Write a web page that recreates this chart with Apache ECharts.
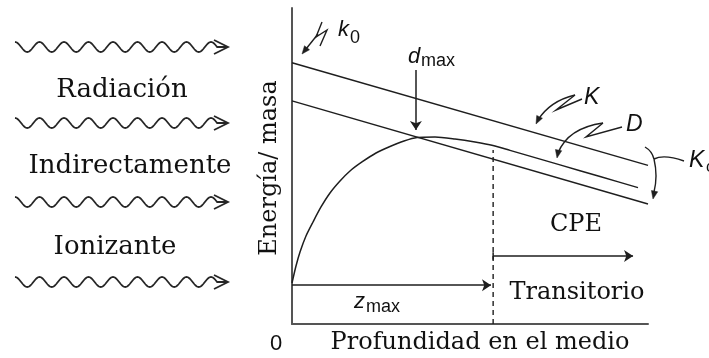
<!DOCTYPE html>
<html>
<head>
<meta charset="utf-8">
<script src="https://cdn.jsdelivr.net/npm/echarts@6/dist/echarts.min.js"></script>
<style>html,body{margin:0;padding:0;background:#fff}#c{width:709px;height:358px}</style>
</head>
<body>
<div id="c"></div>
<script>
// ---- data (depth in % of axis, energy/mass in % of axis) ----
const kermaDepth = [0, 100];
const kermaValue = [82.7, 50.2];
const collisionKermaDepth = [0, 100];
const collisionKermaValue = [70.6, 38.0];
const doseDepth = [0, 1.12, 2.25, 3.93, 5.90, 8.15, 10.67, 13.48, 16.29, 19.66, 23.60, 27.53, 31.46, 35.11, 40.17, 45.79, 51.40, 56.46, 61.24, 75.28, 86.52, 97.19];
const doseValue = [12.97, 18.35, 22.78, 27.85, 32.28, 37.03, 41.46, 45.25, 48.42, 51.27, 54.11, 56.17, 57.91, 59.02, 59.18, 58.54, 57.59, 56.49, 54.94, 50.35, 46.68, 43.16];
const zMaxDepth = 56.5;
const dMaxDepth = 34.8;
const leftLabels = ['Radiación', 'Indirectamente', 'Ionizante'];

const pair = (xs, ys) => xs.map((x, i) => [x, ys[i]]);
const INK = '#1e1e1e';
const SERIF = '"DejaVu Serif"';
const SANS = '"Liberation Sans"';

function head(tx, ty, fx, fy, len, hw) {
  len = len || 8; hw = hw || 3.2;
  const dx = tx - fx, dy = ty - fy, L = Math.hypot(dx, dy);
  const ux = dx / L, uy = dy / L, px = -uy, py = ux;
  const bx = tx - ux * len, by = ty - uy * len;
  return {type: 'polygon', shape: {points: [[tx, ty], [bx + px * hw, by + py * hw], [bx - px * hw, by - py * hw]]},
          style: {fill: INK, stroke: INK, lineWidth: 0.5}, z: 10};
}
function poly(points, w) {
  return {type: 'polyline', shape: {points}, style: {stroke: INK, lineWidth: w || 1.4, fill: null}, z: 10};
}
function curve(x1, y1, cx, cy, x2, y2) {
  return {type: 'bezierCurve', shape: {x1, y1, cpx1: cx, cpy1: cy, x2, y2}, style: {stroke: INK, lineWidth: 1.4, fill: null}, z: 10};
}
function txt(text, x, y, font, align, rot) {
  return {type: 'text', x, y, rotation: rot || 0, z: 10,
    style: {text, font, fill: '#111', textAlign: align || 'center', textVerticalAlign: 'middle', align: align || 'center', verticalAlign: 'middle'}};
}
function wave(y0) {
  const pts = [];
  const x0 = 15, P = 24.5, A = 5, n = 8.25;
  for (let i = 0; i <= n * 40; i++) {
    const x = x0 + i * P / 40;
    pts.push([x, y0 - A * Math.cos(2 * Math.PI * (x - x0) / P)]);
  }
  pts.push([227, y0]);
  return [
    {type: 'polyline', shape: {points: pts, smooth: 0}, style: {stroke: '#262626', lineWidth: 1.8, fill: null}},
    {type: 'polyline', shape: {points: [[214, y0 - 7], [228, y0], [214, y0 + 7]]}, style: {stroke: '#262626', lineWidth: 1.8, fill: null}}
  ];
}

const graphics = [];
[47, 123, 202, 282].forEach(y => graphics.push(...wave(y)));
graphics.push(txt(leftLabels[0], 122, 90, '26px ' + SERIF));
graphics.push(txt(leftLabels[1], 130, 166, '26px ' + SERIF));
graphics.push(txt(leftLabels[2], 115, 247, '26px ' + SERIF));
graphics.push(txt('Energía/ masa', 270, 168, '24px ' + SERIF, 'center', Math.PI / 2));
graphics.push(txt('Profundidad en el medio', 480, 343, '24px ' + SERIF));
graphics.push(txt('0', 276, 344, '22px ' + SANS));
graphics.push(txt('CPE', 576, 225, '24px ' + SERIF));
graphics.push(txt('Transitorio', 577, 293, '24px ' + SERIF));
// italic sans labels with subscripts
graphics.push(txt('k', 338, 30, 'italic 22px ' + SANS, 'left'));
graphics.push(txt('0', 350, 38, '18px ' + SANS, 'left'));
graphics.push(txt('d', 408, 57, 'italic 22px ' + SANS, 'left'));
graphics.push(txt('max', 421, 61, '18px ' + SANS, 'left'));
graphics.push(txt('z', 354, 302, 'italic 22px ' + SANS, 'left'));
graphics.push(txt('max', 366, 307, '18px ' + SANS, 'left'));
graphics.push(txt('K', 584, 98, 'italic 23px ' + SANS, 'left'));
graphics.push(txt('D', 626, 125, 'italic 23px ' + SANS, 'left'));
graphics.push(txt('K', 689, 161, 'italic 23px ' + SANS, 'left'));
graphics.push(txt('c', 706, 168, '16px ' + SANS, 'left'));
// K pointer
graphics.push(poly([[582, 99], [556, 110], [575, 95]]));
graphics.push(curve(575, 95, 550, 101, 538, 120));
graphics.push(head(536, 124, 541, 114));
// D pointer
graphics.push(poly([[622, 127], [586, 137], [603, 123]]));
graphics.push(curve(603, 123, 568, 128, 558, 153));
graphics.push(head(557, 158, 559, 148));
// Kc pointer
graphics.push(curve(645, 147, 652, 151, 654, 159));
graphics.push(curve(654, 159, 664, 154, 684, 161));
graphics.push(curve(654, 159, 658, 176, 654, 192));
graphics.push(head(653, 199, 655, 189));
// k0 photon
graphics.push(poly([[322, 22], [316, 37], [327, 30], [320, 46]]));
graphics.push(poly([[318, 34], [306, 49]]));
graphics.push(head(302, 54, 310, 44));

const axisCommon = {
  type: 'value', min: 0, max: 100,
  axisLine: {show: true, onZero: false, lineStyle: {color: '#555', width: 2}},
  axisTick: {show: false}, axisLabel: {show: false}, splitLine: {show: false}
};
const lineStyle = {color: INK, width: 1.5};

const option = {
  animation: false,
  backgroundColor: '#fff',
  grid: {left: 292, top: 8, right: 61, bottom: 34},
  xAxis: axisCommon,
  yAxis: axisCommon,
  graphic: graphics,
  series: [
    {type: 'line', data: pair(kermaDepth, kermaValue), symbol: 'none', lineStyle},
    {type: 'line', data: pair(collisionKermaDepth, collisionKermaValue), symbol: 'none', lineStyle},
    {type: 'line', data: pair(doseDepth, doseValue), symbol: 'none', smooth: 0.25, lineStyle},
    {type: 'line', data: [[zMaxDepth, 0], [zMaxDepth, 55.1]], symbol: 'none', lineStyle: {color: INK, width: 1.4, type: [5, 4]}},
    {type: 'line', data: [[zMaxDepth, 20.3], [zMaxDepth, 22.7]], symbol: 'none', lineStyle},
    {type: 'lines', coordinateSystem: 'cartesian2d', symbol: ['none', 'arrow'], symbolSize: 9,
      lineStyle: {color: INK, width: 1.5, opacity: 1},
      data: [
        {coords: [[0, 12.3], [55.9, 12.3]]},
        {coords: [[zMaxDepth, 21.5], [95.8, 21.5]]},
        {coords: [[dMaxDepth, 80.4], [dMaxDepth, 61.4]]}
      ]}
  ]
};
echarts.init(document.getElementById('c'), null, {renderer: 'canvas'}).setOption(option);
</script>
</body>
</html>
